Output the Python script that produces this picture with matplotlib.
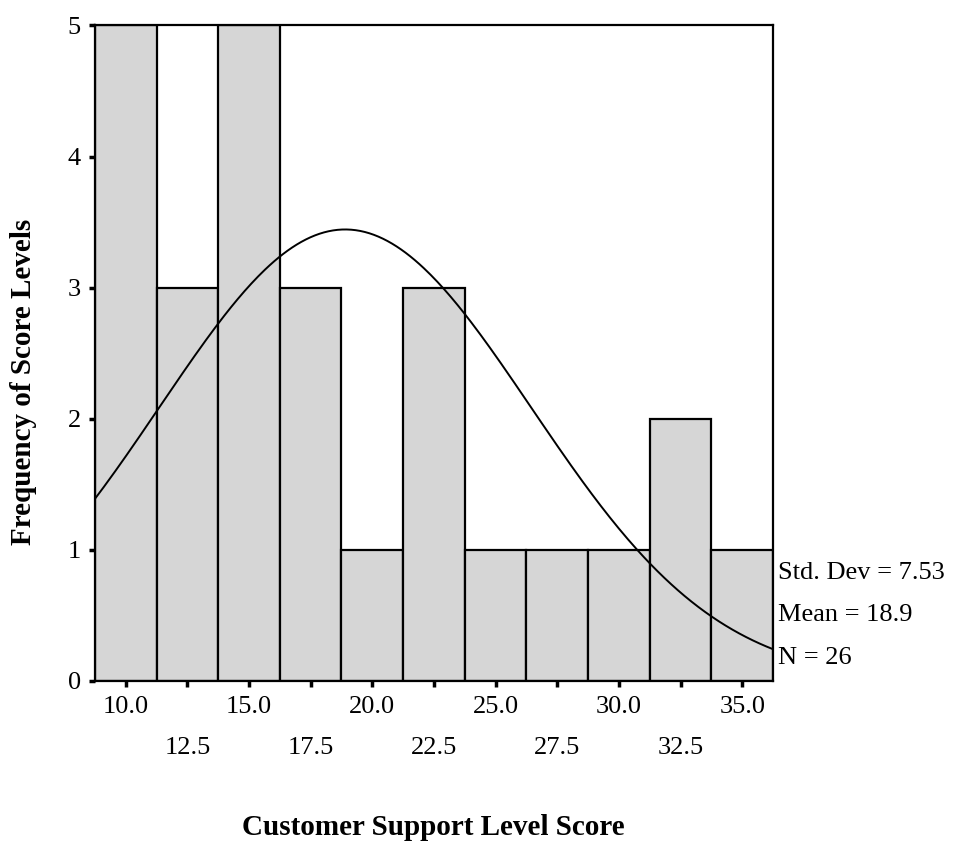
import numpy as np
import matplotlib.pyplot as plt

# bin midpoints and counts
bin_mids = [10.0, 12.5, 15.0, 17.5, 20.0, 22.5, 25.0, 27.5, 30.0, 32.5, 35.0]
counts = [5, 3, 5, 3, 1, 3, 1, 1, 1, 2, 1]
std_dev = 7.53
mean = 18.9
n = 26
bin_width = 2.5

plt.rcParams['font.family'] = ['Liberation Serif', 'DejaVu Serif']

fig = plt.figure(figsize=(9.58, 8.47), dpi=100)
ax = fig.add_axes([0.099, 0.196, 0.708, 0.774])

ax.bar(bin_mids, counts, width=bin_width, color='#d6d6d6', edgecolor='black', linewidth=1.6)

# normal curve scaled to counts
xs = np.linspace(8.75, 36.25, 300)
ys = n * bin_width / (std_dev * np.sqrt(2 * np.pi)) * np.exp(-0.5 * ((xs - mean) / std_dev) ** 2)
ax.plot(xs, ys, color='black', linewidth=1.4)

ax.set_xlim(8.75, 36.25)
ax.set_ylim(0, 5)
for s in ax.spines.values():
    s.set_linewidth(1.6)

# alternating tick label rows: whole numbers on top, halves below
ax.set_xticks(bin_mids[0::2])
ax.set_xticklabels([f'{v:.1f}' for v in bin_mids[0::2]])
ax.set_xticks(bin_mids[1::2], minor=True)
ax.set_xticklabels([f'{v:.1f}' for v in bin_mids[1::2]], minor=True)
ax.tick_params(axis='x', which='major', labelsize=19, length=4, width=2.5, pad=7)
ax.tick_params(axis='x', which='minor', labelsize=19, length=4, width=2.5, pad=36)
ax.set_yticks(range(6))
ax.tick_params(axis='y', labelsize=19, length=4, width=2.5, pad=6)

ax.set_xlabel('Customer Support Level Score', fontsize=21, fontweight='bold')
ax.xaxis.set_label_coords(0.499, -0.203)
ax.set_ylabel('Frequency of Score Levels', fontsize=21, fontweight='bold')
ax.yaxis.set_label_coords(-0.085, 0.456)

stats = [f'Std. Dev = {std_dev}', f'Mean = {mean}', f'N = {n}']
for i, t in enumerate(stats):
    ax.text(1.007, 0.165 - i * 0.065, t, transform=ax.transAxes, fontsize=19, va='center', ha='left')

fig.savefig('out.png', dpi=100)
